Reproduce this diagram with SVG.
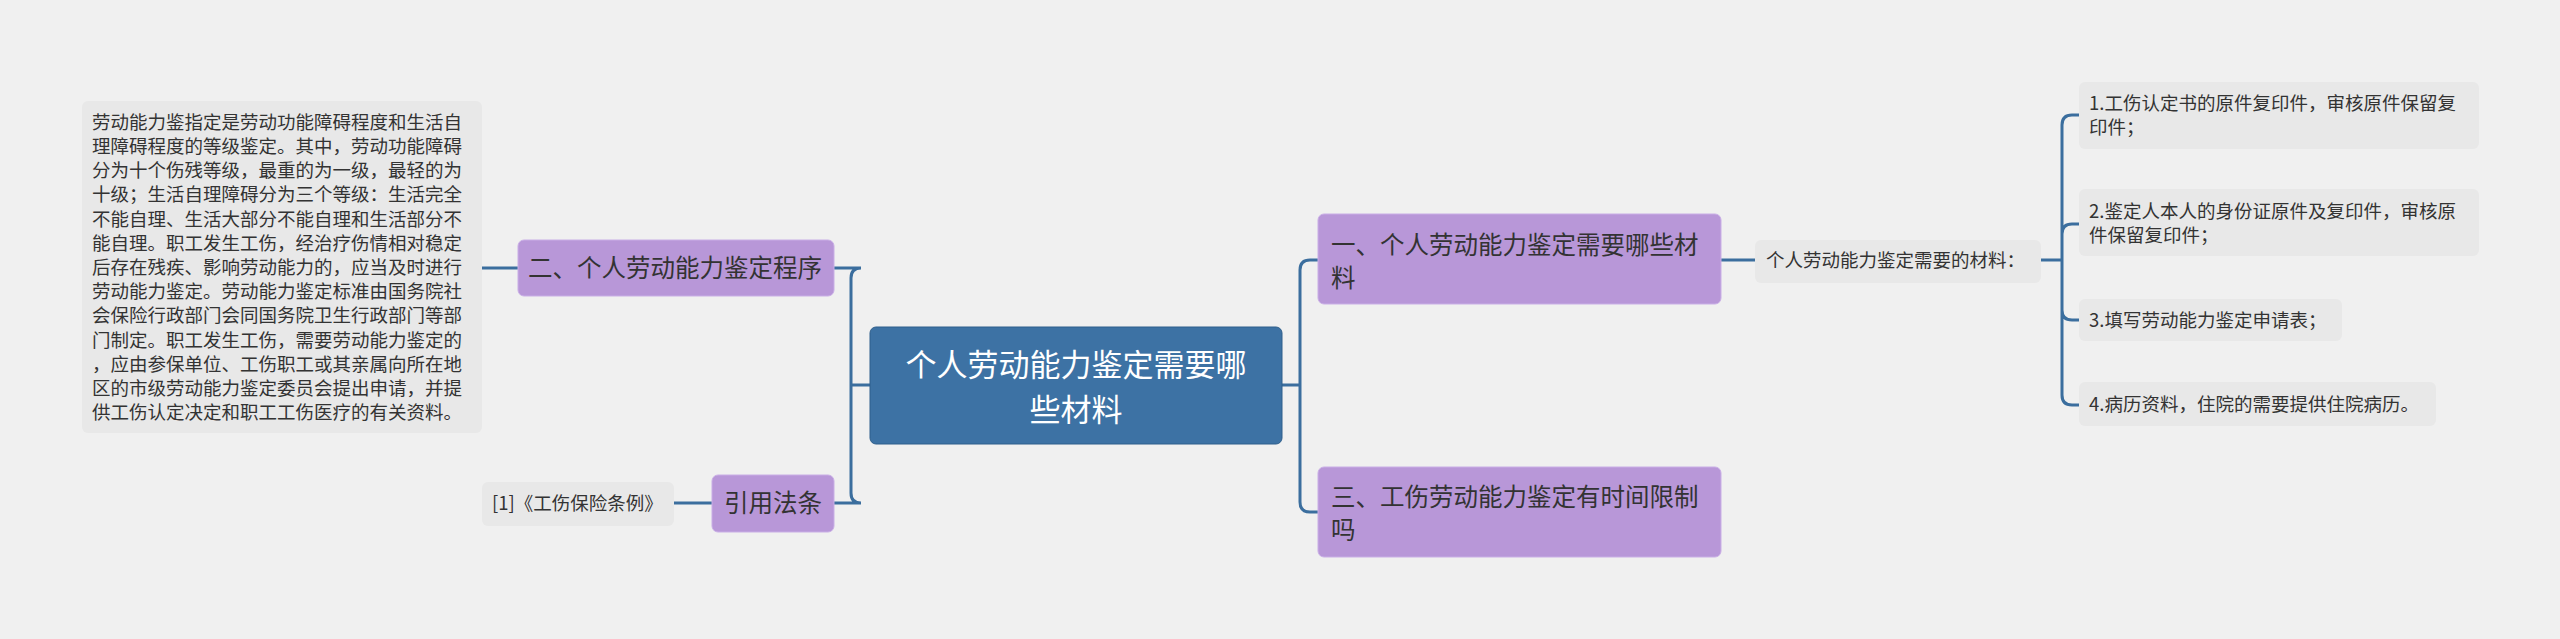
<svg xmlns="http://www.w3.org/2000/svg" width="2560" height="639" viewBox="0 0 2560 639">
<style>
text{font-family:"Noto Sans CJK SC","Liberation Sans",sans-serif;fill:#333}
.leaf{fill:#e8e8e8}
.sub{fill:#b897d8;stroke:#c9aee6;stroke-width:1}
.c{fill:none;stroke:#3b6e9e;stroke-width:3}
.t19{font-size:18.5px}
.t24{font-size:24.5px}
</style>
<rect width="2560" height="639" fill="#f0f0f0"/>
<g id="connectors">
<path class="c" d="M870 385 H851 M851 385 V278 Q851 268 861 268 H834 M851 385 V493 Q851 503 861 503 H834"/>
<path class="c" d="M518 268 H482 M712 503 H674"/>
<path class="c" d="M1282 385 H1300 M1300 385 V270 Q1300 260 1310 260 H1318 M1300 385 V502 Q1300 512 1310 512 H1318"/>
<path class="c" d="M1721 260 H1755 M2041 260 H2062 M2062 260 V125 Q2062 115 2072 115 H2079 M2062 260 V234 Q2062 224 2072 224 H2079 M2062 260 V310 Q2062 320 2072 320 H2079 M2062 260 V395 Q2062 405 2072 405 H2079"/>
</g>
<g id="center">
<rect x="870" y="327" width="412" height="117" rx="6" fill="#3d72a4" stroke="#2f5f8c"/>
<text x="1076" y="376" text-anchor="middle" font-size="31" style="fill:#fff">个人劳动能力鉴定需要哪</text>
<text x="1076" y="421" text-anchor="middle" font-size="31" style="fill:#fff">些材料</text>
</g>
<g id="n2">
<rect class="sub" x="518" y="240" width="316" height="56" rx="6"/>
<text class="t24" x="528" y="277">二、个人劳动能力鉴定程序</text>
</g>
<g id="n2text">
<rect class="leaf" x="82" y="101" width="400" height="332" rx="6"/>
<g class="t19">
<text x="92" y="129">劳动能力鉴指定是劳动功能障碍程度和生活自</text>
<text x="92" y="153">理障碍程度的等级鉴定。其中，劳动功能障碍</text>
<text x="92" y="177">分为十个伤残等级，最重的为一级，最轻的为</text>
<text x="92" y="201">十级；生活自理障碍分为三个等级：生活完全</text>
<text x="92" y="226">不能自理、生活大部分不能自理和生活部分不</text>
<text x="92" y="250">能自理。职工发生工伤，经治疗伤情相对稳定</text>
<text x="92" y="274">后存在残疾、影响劳动能力的，应当及时进行</text>
<text x="92" y="298">劳动能力鉴定。劳动能力鉴定标准由国务院社</text>
<text x="92" y="322">会保险行政部门会同国务院卫生行政部门等部</text>
<text x="92" y="347">门制定。职工发生工伤，需要劳动能力鉴定的</text>
<text x="92" y="371">，应由参保单位、工伤职工或其亲属向所在地</text>
<text x="92" y="395">区的市级劳动能力鉴定委员会提出申请，并提</text>
<text x="92" y="419">供工伤认定决定和职工工伤医疗的有关资料。</text>
</g>
</g>
<g id="ref">
<rect class="sub" x="712" y="475" width="122" height="57" rx="6"/>
<text class="t24" x="773" y="512" text-anchor="middle">引用法条</text>
</g>
<g id="reftext">
<rect class="leaf" x="482" y="482" width="192" height="44" rx="6"/>
<text class="t19" x="492" y="510">[1]《工伤保险条例》</text>
</g>
<g id="n1">
<rect class="sub" x="1318" y="214" width="403" height="90" rx="6"/>
<text class="t24" x="1331" y="254">一、个人劳动能力鉴定需要哪些材</text>
<text class="t24" x="1331" y="287">料</text>
</g>
<g id="n3">
<rect class="sub" x="1318" y="467" width="403" height="90" rx="6"/>
<text class="t24" x="1331" y="506">三、工伤劳动能力鉴定有时间限制</text>
<text class="t24" x="1331" y="539">吗</text>
</g>
<g id="materials">
<rect class="leaf" x="1755" y="240" width="286" height="43" rx="6"/>
<text class="t19" x="1766" y="267">个人劳动能力鉴定需要的材料：</text>
</g>
<g id="m1">
<rect class="leaf" x="2079" y="82" width="400" height="67" rx="6"/>
<text class="t19" x="2089" y="110">1.工伤认定书的原件复印件，审核原件保留复</text>
<text class="t19" x="2089" y="134">印件；</text>
</g>
<g id="m2">
<rect class="leaf" x="2079" y="189" width="400" height="67" rx="6"/>
<text class="t19" x="2089" y="218">2.鉴定人本人的身份证原件及复印件，审核原</text>
<text class="t19" x="2089" y="242">件保留复印件；</text>
</g>
<g id="m3">
<rect class="leaf" x="2079" y="299" width="263" height="42" rx="6"/>
<text class="t19" x="2089" y="327">3.填写劳动能力鉴定申请表；</text>
</g>
<g id="m4">
<rect class="leaf" x="2079" y="382" width="357" height="44" rx="6"/>
<text class="t19" x="2089" y="411">4.病历资料，住院的需要提供住院病历。</text>
</g>
</svg>
